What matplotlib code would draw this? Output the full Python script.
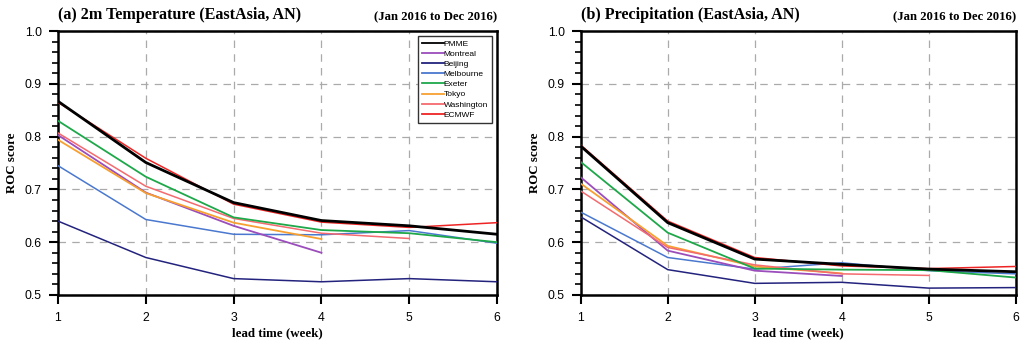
import numpy as np
from matplotlib import pyplot as plt
from matplotlib.ticker import MultipleLocator

lead = [1, 2, 3, 4, 5, 6]
names = ["PMME", "Montreal", "Beijing", "Melbourne", "Exeter", "Tokyo", "Washington", "ECMWF"]
colors = {"PMME": "#000000", "Montreal": "#9b4dbb", "Beijing": "#23237e", "Melbourne": "#4a78cf",
          "Exeter": "#1ea84a", "Tokyo": "#f7a030", "Washington": "#f46a6e", "ECMWF": "#ee2424"}
widths = {"PMME": 2.0, "Montreal": 1.3, "Beijing": 1.1, "Melbourne": 1.1,
          "Exeter": 1.3, "Tokyo": 1.3, "Washington": 1.1, "ECMWF": 1.1}

# (a) 2m temperature
t2m = {
    "PMME":       [0.867, 0.751, 0.675, 0.641, 0.631, 0.615],
    "Montreal":   [0.803, 0.694, 0.631, 0.580],
    "Beijing":    [0.640, 0.571, 0.531, 0.525, 0.531, 0.525],
    "Melbourne":  [0.745, 0.643, 0.615, 0.614, 0.622, 0.598],
    "Exeter":     [0.830, 0.724, 0.647, 0.623, 0.617, 0.600],
    "Tokyo":      [0.794, 0.693, 0.637, 0.606],
    "Washington": [0.807, 0.706, 0.645, 0.617, 0.607],
    "ECMWF":      [0.865, 0.759, 0.672, 0.638, 0.628, 0.637],
}
# (b) precipitation
prec = {
    "PMME":       [0.782, 0.637, 0.568, 0.558, 0.549, 0.544],
    "Montreal":   [0.723, 0.584, 0.546, 0.536],
    "Beijing":    [0.648, 0.548, 0.522, 0.524, 0.513, 0.514],
    "Melbourne":  [0.657, 0.571, 0.549, 0.561, 0.546, 0.540],
    "Exeter":     [0.752, 0.618, 0.550, 0.548, 0.547, 0.533],
    "Tokyo":      [0.711, 0.593, 0.554, 0.541],
    "Washington": [0.697, 0.590, 0.557, 0.540, 0.537],
    "ECMWF":      [0.784, 0.640, 0.571, 0.555, 0.550, 0.554],
}

serif = "Liberation Serif"
sans = "Liberation Sans"

fig = plt.figure(figsize=(10.26, 3.45), dpi=100)
ax1 = fig.add_axes([0.0565, 0.145, 0.428, 0.765])
ax2 = fig.add_axes([0.566, 0.145, 0.424, 0.765])

def draw(ax, data, title, legend):
    order = ["Beijing", "Melbourne", "Montreal", "Tokyo", "Washington", "Exeter", "ECMWF", "PMME"]
    for n in order:
        y = data[n]
        ax.plot(lead[:len(y)], y, color=colors[n], lw=widths[n], label=n, zorder=3)
    ax.set_xlim(1, 6)
    ax.set_ylim(0.5, 1.0)
    ax.xaxis.set_major_locator(MultipleLocator(1))
    ax.yaxis.set_minor_locator(MultipleLocator(0.02))
    ax.set_yticks(np.arange(0.5, 1.01, 0.1))
    ax.set_yticklabels(["0.5", "0.6", "0.7", "0.8", "0.9", "1.0"])
    ax.grid(True, which="major", color="#aaaaaa", ls=(0, (6, 5)), lw=0.9)
    ax.tick_params(axis="both", which="major", direction="out", length=6.5, width=1.5,
                   labelsize=8.8, pad=5, top=False, right=False)
    ax.tick_params(axis="x", which="major", pad=6)
    ax.tick_params(axis="y", which="minor", direction="out", length=4.3, width=1.2)
    for lab in ax.get_xticklabels() + ax.get_yticklabels():
        lab.set_fontfamily(sans)
    for s in ax.spines.values():
        s.set_linewidth(1.8)
    ax.set_xlabel("lead time (week)", fontfamily=serif, fontweight="bold", fontsize=9.3, labelpad=2)
    ax.set_ylabel("ROC score", fontfamily=serif, fontweight="bold", fontsize=9.3, labelpad=5)
    ax.text(0.0, 1.03, title, transform=ax.transAxes, fontfamily=serif, fontweight="bold",
            fontsize=11.6, ha="left", va="bottom")
    ax.text(1.0, 1.03, "(Jan 2016 to Dec 2016)", transform=ax.transAxes, fontfamily=serif,
            fontweight="bold", fontsize=9.2, ha="right", va="bottom")
    if legend:
        handles, labels = ax.get_legend_handles_labels()
        hmap = dict(zip(labels, handles))
        leg = ax.legend([hmap[n] for n in names], names, loc="upper right",
                        bbox_to_anchor=(0.988, 0.981), prop={"family": sans, "size": 6.0},
                        handlelength=2.6, handletextpad=0.0, labelspacing=0.28,
                        borderpad=0.45, borderaxespad=0, fancybox=False, framealpha=1,
                        edgecolor="#333333")
        leg.get_frame().set_linewidth(1.0)
        for h in leg.get_lines():
            h.set_linewidth(1.3)

draw(ax1, t2m, "(a) 2m Temperature (EastAsia, AN)", True)
draw(ax2, prec, "(b) Precipitation (EastAsia, AN)", False)

plt.savefig("out.png", dpi=100)
